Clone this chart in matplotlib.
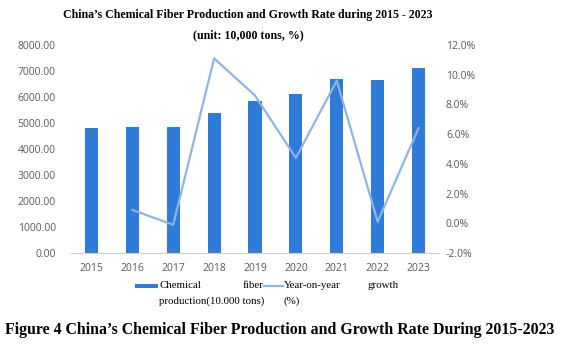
import matplotlib.pyplot as plt
from matplotlib.patches import Rectangle
from matplotlib.lines import Line2D
from matplotlib.ticker import FuncFormatter

years = ["2015", "2016", "2017", "2018", "2019", "2020", "2021", "2022", "2023"]
production = [4800, 4860, 4860, 5400, 5860, 6115, 6690, 6665, 7100]
# growth line starts in 2016
growth_years = ["2016", "2017", "2018", "2019", "2020", "2021", "2022", "2023"]
growth = [0.9, -0.1, 11.1, 8.6, 4.4, 9.6, 0.1, 6.4]

bar_color = "#2f7bd9"
line_color = "#8fb4e3"
tick_color = "#595959"
sans = ["Open Sans", "DejaVu Sans"]
serif = ["Liberation Serif", "DejaVu Serif"]

fig = plt.figure(figsize=(5.61, 3.44), dpi=100)
ax = fig.add_axes([0.1266, 0.2645, 0.6559, 0.6047])

x = list(range(len(years)))
ax.bar(x, production, width=0.32, color=bar_color, zorder=2)
ax.set_ylim(0, 8000)
ax.set_yticks(range(0, 8001, 1000))
ax.yaxis.set_major_formatter(FuncFormatter(lambda v, p: f"{v:.2f}"))
ax.set_xlim(-0.5, len(years) - 0.5)
ax.set_xticks(x)
ax.set_xticklabels(years)

ax2 = ax.twinx()
gx = [years.index(y) for y in growth_years]
ax2.plot(gx, growth, color=line_color, lw=1.6, zorder=3)
ax2.set_ylim(-2, 12)
ax2.set_yticks(range(-2, 13, 2))
ax2.yaxis.set_major_formatter(FuncFormatter(lambda v, p: f"{v:.1f}%"))

for a in (ax, ax2):
    for s in ("top", "left", "right", "bottom"):
        a.spines[s].set_visible(False)
    a.tick_params(length=0, labelsize=7.5, labelcolor=tick_color)
    for lab in a.get_xticklabels() + a.get_yticklabels():
        lab.set_family(sans)
ax.spines["bottom"].set_visible(True)
ax.spines["bottom"].set_color("#d0d0d0")
ax.spines["bottom"].set_linewidth(0.8)
ax.tick_params(axis="y", pad=11)
ax.tick_params(axis="x", pad=7)
ax2.tick_params(axis="y", pad=5)

fig.text(0.442, 0.957, "China\u2019s Chemical Fiber Production and Growth Rate during 2015 - 2023",
         ha="center", va="center", family=serif, weight="bold", fontsize=8.6)
fig.text(0.442, 0.898, "(unit: 10,000 tons, %)",
         ha="center", va="center", family=serif, weight="bold", fontsize=8.6)

# legend drawn by hand to keep the spread-out word layout
fig.add_artist(Rectangle((135 / 561, 1 - 288 / 344), 23 / 561, 4 / 344,
                         transform=fig.transFigure, color=bar_color, lw=0))
fig.add_artist(Line2D([264 / 561, 283 / 561], [1 - 286 / 344] * 2,
                      transform=fig.transFigure, color=line_color, lw=1.6))
leg_kw = dict(family=serif, fontsize=7.8, va="center", ha="left")
fig.text(159 / 561, 1 - 285 / 344, "Chemical", **leg_kw)
fig.text(263 / 561, 1 - 285 / 344, "fiber", ha="right",
         **{k: v for k, v in leg_kw.items() if k != "ha"})
fig.text(159 / 561, 1 - 301 / 344, "production(10.000 tons)", **leg_kw)
fig.text(284 / 561, 1 - 285 / 344, "Year-on-year", **leg_kw)
fig.text(368 / 561, 1 - 285 / 344, "growth", **leg_kw)
fig.text(284 / 561, 1 - 301 / 344, "(%)", **leg_kw)

fig.text(5 / 561, 1 - 330 / 344,
         "Figure 4 China\u2019s Chemical Fiber Production and Growth Rate During 2015-2023",
         ha="left", va="center", family=serif, weight="bold", fontsize=11.4)

fig.savefig("out.png", dpi=100)
